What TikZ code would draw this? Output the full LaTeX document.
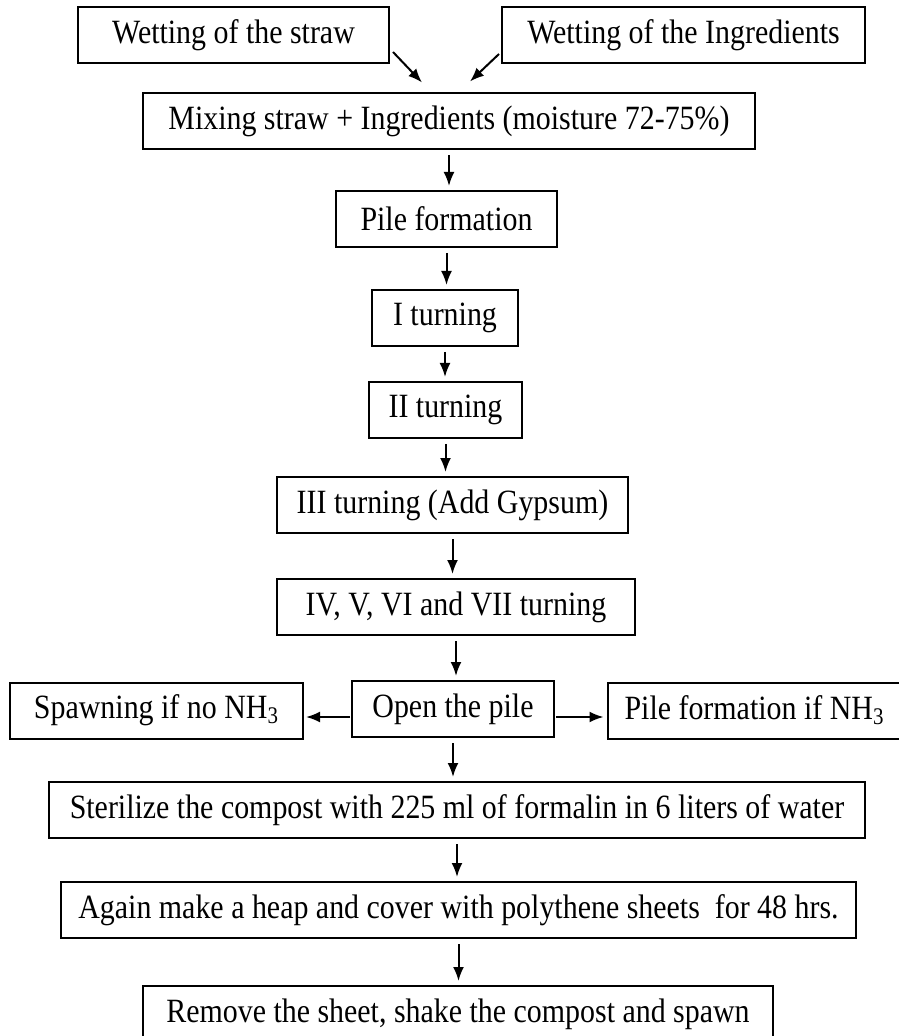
\documentclass[tikz,border=0pt]{standalone}
\usepackage{fontspec}
\setmainfont{Liberation Serif}[FakeStretch=0.88]
\usetikzlibrary{arrows.meta}

\begin{document}
\begin{tikzpicture}[
    x=0.5pt, y=-0.5pt,
    box/.style={draw=black, line width=1pt, rectangle, minimum height=28pt,
        inner sep=2pt, font=\fontsize{17pt}{19pt}\selectfont},
    arr/.style={line width=1pt, -{Latex[length=7pt, width=5.5pt]},
        shorten <=2.5pt, shorten >=2pt},
  ]
  \useasboundingbox (0,0) rectangle (898,1036);

  \node[box, minimum width=155.5pt] (straw) at (233.5,35) {Wetting of the straw};
  \node[box, minimum width=181.5pt] (ingr) at (683.5,35) {Wetting of the Ingredients};
  \node[box, minimum width=306pt] (mix) at (449,121.5) {Mixing straw + Ingredients (moisture 72-75\%)};
  \node[box, minimum width=110.5pt] (pile) at (446.5,219) {Pile formation};
  \node[box, minimum width=73pt] (t1) at (445,318) {I turning};
  \node[box, minimum width=76.5pt] (t2) at (445.5,410) {II turning};
  \node[box, minimum width=175.5pt] (t3) at (452.5,505) {III turning (Add Gypsum)};
  \node[box, minimum width=179pt] (t4) at (456,607) {IV, V, VI and VII turning};
  \node[box, minimum width=101pt] (open) at (453,709) {Open the pile};
  \node[box, minimum width=146.5pt] (spawn) at (156.5,710.5) {Spawning if no NH\textsubscript{3}};
  \node[box, minimum width=147pt] (pilenh) at (754.5,710.5) {Pile formation if NH\textsubscript{3}};
  \node[box, minimum width=408pt] (ster) at (457,810) {Sterilize the compost with 225 ml of formalin in 6 liters of water};
  \node[box, minimum width=397.5pt] (again) at (458.5,910) {Again make a heap and cover with polythene sheets~ for 48 hrs.};
  \node[box, minimum width=315pt] (remove) at (458,1014) {Remove the sheet, shake the compost and spawn};

  \draw[arr, shorten <=0pt, shorten >=0pt] ([shift={(3,-12)}]straw.south east) -- ([shift={(-27,-10)}]mix.north);
  \draw[arr, shorten <=0pt, shorten >=0pt] ([shift={(-2,-10)}]ingr.south west) -- ([shift={(21,-11)}]mix.north);

  \foreach \a/\b in {mix/pile, pile/t1, t1/t2, t2/t3, t3/t4, t4/open, open/ster, ster/again, again/remove}{
      \draw[arr] (\a.south) -- (\a.south |- \b.north);
    }

  \draw[arr, shorten <=0.5pt, shorten >=1pt] ([yshift=-4pt]open.west) -- ([yshift=-4pt]open.west -| spawn.east);
  \draw[arr, shorten <=0.5pt, shorten >=1.5pt] ([yshift=-4pt]open.east) -- ([yshift=-4pt]open.east -| pilenh.west);
\end{tikzpicture}
\end{document}
